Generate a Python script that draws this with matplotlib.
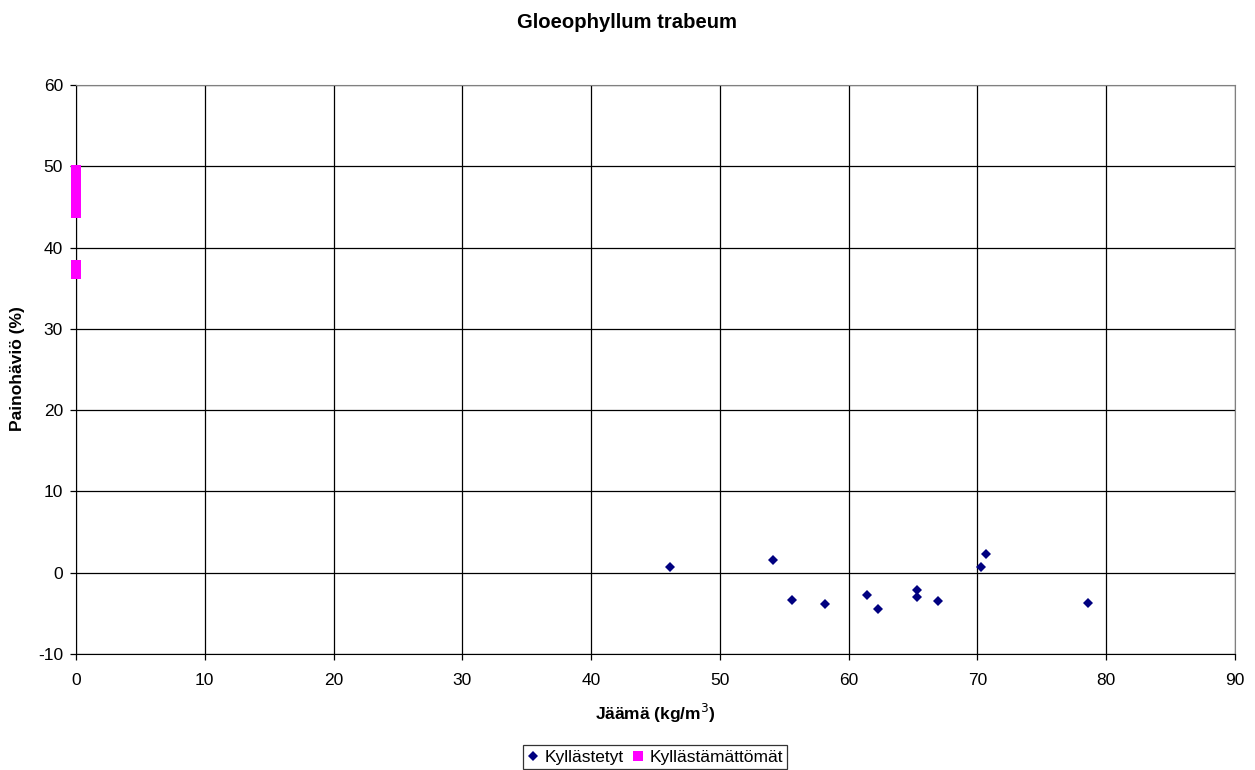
import matplotlib
matplotlib.use("Agg")
import matplotlib.pyplot as plt

plt.rcParams['font.family'] = ['Liberation Sans', 'DejaVu Sans']
plt.rcParams['axes.unicode_minus'] = False

# Data
kyll_x = [46.1, 54.1, 55.6, 58.2, 61.4, 62.25, 65.3, 65.3, 66.9, 70.3, 70.65, 78.6]
kyll_y = [0.74, 1.51, -3.36, -3.85, -2.74, -4.43, -2.1, -2.98, -3.44, 0.70, 2.34, -3.73]
kylm_x = [0, 0, 0, 0, 0, 0, 0, 0, 0, 0, 0, 0]
kylm_y = [49.6, 49.0, 48.5, 47.9, 47.3, 46.6, 46.0, 45.5, 45.0, 44.2, 37.8, 36.7]

title = "Gloeophyllum trabeum"
xlabel = "Jäämä (kg/m$^3$)"
ylabel = "Painohäviö (%)"
series_names = ["Kyllästetyt", "Kyllästämättömät"]

fig = plt.figure(figsize=(12.55, 7.7), dpi=100)
ax = fig.add_axes([76/1255, 1-654/770, (1235-76)/1255, (654-85)/770])

ax.plot(kyll_x, kyll_y, linestyle='none', marker='D', ms=5.6, mew=0,
        color='#000080', label=series_names[0], clip_on=False, zorder=4)
ax.plot(kylm_x, kylm_y, linestyle='none', marker='s', ms=7.4, mew=0,
        color='#FF00FF', label=series_names[1], clip_on=False, zorder=4)

ax.set_xlim(0, 90)
ax.set_ylim(-10, 60)
ax.set_xticks(range(0, 91, 10))
ax.set_yticks(range(-10, 61, 10))
ax.grid(True, color='black', linewidth=0.9)
ax.set_axisbelow(True)
for s in ['top', 'right']:
    ax.spines[s].set_color('#808080')
for s in ['left', 'bottom']:
    ax.spines[s].set_color('black')
ax.tick_params(axis='both', labelsize=12.5, width=0.9, direction='out')
ax.tick_params(axis='y', length=4.3, pad=5)
ax.tick_params(axis='x', length=4, pad=10)

fig.text(627/1255, 1-22/770, title, ha='center', va='center', fontsize=14.6, fontweight='bold')
fig.text(655/1255, 1-713/770, xlabel, ha='center', va='center', fontsize=12.5, fontweight='bold')
fig.text(18/1255, 1-368.5/770, ylabel, ha='center', va='center', rotation=90, fontsize=12.5, fontweight='bold')

leg = fig.legend(loc='center', bbox_to_anchor=(655/1255, 1-757/770), ncol=2,
                 fontsize=12.5, frameon=True, fancybox=False, edgecolor='black',
                 handlelength=0.7, handletextpad=0.3, columnspacing=0.5,
                 borderpad=0.25, markerscale=1.0)
leg.get_frame().set_linewidth(0.9)

fig.savefig("out.png", dpi=100)
